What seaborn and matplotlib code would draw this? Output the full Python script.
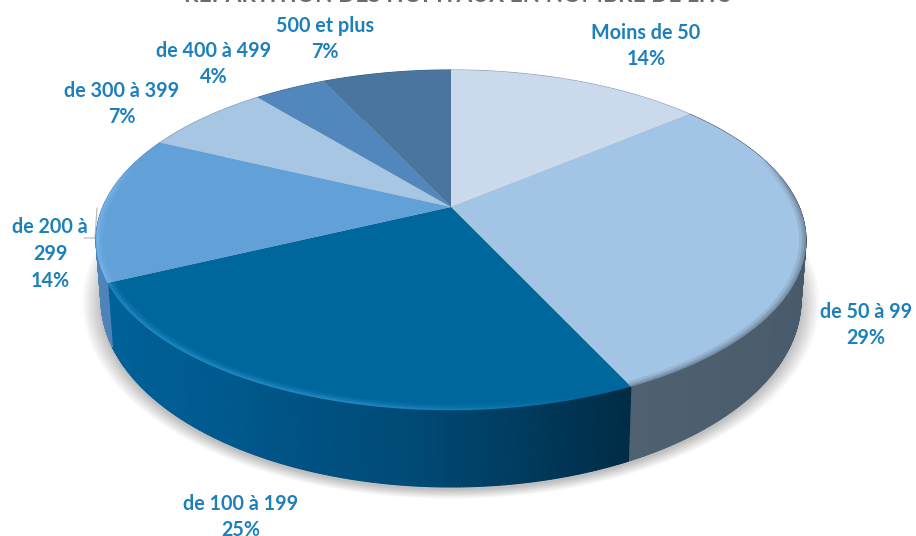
import numpy as np
import seaborn as sns
import matplotlib.pyplot as plt
from matplotlib.collections import LineCollection
from matplotlib.colors import to_rgb
from matplotlib.transforms import Transform

categories = ["Moins de 50", "de 50 à 99", "de 100 à 199", "de 200 à\n299",
              "de 300 à 399", "de 400 à 499", "500 et plus"]
shares = [14, 29, 25, 14, 7, 4, 7]
title = "RÉPARTITION DES HÔPITAUX EN NOMBRE DE LITS"

top_colors = ["#CAD9EB", "#A3C5E5", "#00679C", "#62A0D8", "#A7C6E4", "#5187BC", "#4A759F"]
side_ramps = [["#8FA3B8", "#8FA3B8"],
              ["#4F6070", "#47596A", "#4C5F72"],
              ["#00629A", "#005A8F", "#004A76", "#002C45"],
              ["#5B8FC6", "#4F83B8"],
              ["#7F9DBB", "#7F9DBB"],
              ["#3F6F9F", "#3F6F9F"],
              ["#3A6488", "#3A6488"]]
rim_colors = ["#B4C4D6", "#66798C", "#2A94D0", "#7CBAF0", "#B7D2EC", "#6E9FCF", "#6A92B8"]
label_xy = [(646, 46), (866, 325), (241, 517), (50, 254), (122, 104), (214, 64), (325, 39)]


class PerspectiveDisc(Transform):
    # unit circle -> tilted ellipse, the centre of the pie sits above the ellipse centre
    input_dims = 2
    output_dims = 2
    cx, cy = 451, 207
    a, b, k = 348.2, 163.6, 0.194

    def __init__(self, radius=1.0):
        super().__init__()
        self.radius = radius

    def transform_non_affine(self, values):
        x, y = np.asarray(values).T * self.radius
        w = 1 + self.k * y
        return np.column_stack([self.cx + self.a * x / w, self.cy - self.b * y / w])


disc = PerspectiveDisc()


def rim(theta, radius=1.0):
    t = np.radians(theta)
    return PerspectiveDisc(radius).transform_non_affine(np.column_stack([np.cos(t), np.sin(t)]))


def base(xy, grow=0.0, drop=0.0):
    # lower edge of the cake
    return np.column_stack([451 + (xy[:, 0] - 451) * (0.986 + grow),
                            300 + drop + (xy[:, 1] - 240) * (1.10 + grow)])


sns.set_theme(style="white")
plt.rcParams["font.family"] = ["Lato", "DejaVu Sans"]

fig = plt.figure(figsize=(9.16, 5.36), dpi=100)
ax = fig.add_axes([0, 0, 1, 1])

wedges, _ = ax.pie(shares, startangle=90, counterclock=False, colors=top_colors,
                   wedgeprops={"linewidth": 0})
ax.set_aspect("auto")
ax.set_xlim(0, 916)
ax.set_ylim(536, 0)
ax.axis("off")

for w in wedges:
    w.set_transform(disc + ax.transData)
    w.set_zorder(5)

# soft shadow under the cake
circle = rim(np.linspace(0, 360, 361))
for i in range(16):
    ax.fill(*base(circle, grow=0.0035 * i, drop=3).T, color="black", alpha=0.014, lw=0, zorder=1)

# side wall, thin strips so the shading runs along the rim
for wedge, ramp in zip(wedges, side_ramps):
    th = np.linspace(wedge.theta1, wedge.theta2, max(int(wedge.theta2 - wedge.theta1) * 2, 8) + 1)
    upper = rim(th)
    lower = base(upper)
    strip_colors = sns.blend_palette(ramp, len(th) - 1)
    for j, col in enumerate(strip_colors):
        ax.fill([upper[j, 0], upper[j + 1, 0], lower[j + 1, 0], lower[j, 0]],
                [upper[j, 1], upper[j + 1, 1], lower[j + 1, 1], lower[j, 1]],
                facecolor=col, edgecolor=col, lw=0.8, zorder=3)

# bevel on the front edge of the top face, fades out towards the back
for idx, (wedge, col) in enumerate(zip(wedges, rim_colors)):
    th = np.linspace(wedge.theta1, wedge.theta2, 160)
    fade = np.clip((0.3 - np.sin(np.radians(th))) / 0.2, 0, 1)
    if idx == 2:
        fade = fade * np.clip((0.35 - np.cos(np.radians(th))) / 0.6, 0, 1)
    for radius, lw, alpha in [(0.99, 4.5, 0.2), (0.994, 2.5, 0.35), (0.998, 1.2, 0.55)]:
        pts = rim(th, radius)
        segs = np.stack([pts[:-1], pts[1:]], axis=1)
        rgba = np.column_stack([np.tile(to_rgb(col), (len(segs), 1)), fade[:-1] * alpha])
        ax.add_collection(LineCollection(segs, colors=rgba, linewidths=lw, zorder=6,
                                         capstyle="butt"), autolim=False)

for name, share, (x, y) in zip(categories, shares, label_xy):
    ax.text(x, y, f"{name}\n{share}%", color="#1E80BA", fontsize=14.2, fontweight="bold",
            ha="center", va="center", linespacing=1.42, zorder=8)

# leader line of the 200 à 299 label
ax.plot([97, 95, 84], [208, 238, 238], color="#B5B5B5", lw=0.8, zorder=2)

ax.text(458, 2.5, title, color="#6B6B6B", fontsize=16.3, fontweight="bold", ha="center", va="baseline")

fig.savefig("out.png", dpi=100)
